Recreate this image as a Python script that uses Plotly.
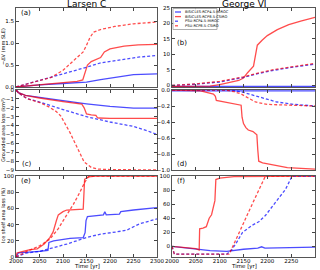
import plotly.graph_objects as go

# ---------------- data ----------------
YEAR_TICKS = [2000, 2050, 2100, 2150, 2200, 2250, 2300]
SERIES = ["BISICLES-RCP4.5-MIROC", "BISICLES-RCP8.5-CSIRO", "PSU-RCP4.5-MIROC", "PSU-RCP8.5-CSIRO"]

# (a) Larsen C, -dV (mm SLE)
a_bis45_t = [2000, 2050, 2100, 2150, 2180, 2215, 2250, 2300]
a_bis45_v = [0, 0.05, 0.08, 0.11, 0.17, 0.23, 0.28, 0.30]
a_bis85_t = [2000, 2050, 2100, 2130, 2142, 2146, 2152, 2160, 2172, 2180, 2188, 2200, 2230, 2260, 2300]
a_bis85_v = [0, 0.05, 0.09, 0.13, 0.16, 0.30, 0.50, 0.58, 0.63, 0.67, 0.80, 0.87, 0.93, 0.96, 0.97]
a_psu45_t = [2000, 2050, 2100, 2150, 2180, 2220, 2260, 2300]
a_psu45_v = [0, 0.15, 0.29, 0.45, 0.55, 0.62, 0.68, 0.72]
a_psu85_t = [2000, 2025, 2050, 2075, 2100, 2115, 2130, 2143, 2150, 2157, 2165, 2180, 2210, 2250, 2300]
a_psu85_v = [0, 0.07, 0.14, 0.22, 0.38, 0.52, 0.68, 0.80, 0.95, 1.12, 1.25, 1.31, 1.38, 1.44, 1.48]

# (b) George VI, -dV (mm SLE)
b_bis45_t = [2000, 2100, 2200, 2300]
b_bis45_v = [-0.3, -0.35, -0.3, -0.3]
b_bis85_t = [2000, 2050, 2080, 2100, 2120, 2140, 2150, 2159, 2171, 2175, 2179, 2189, 2200, 2221, 2245, 2270, 2300]
b_bis85_v = [-0.3, -0.3, -0.2, 0.3, 0.9, 1.6, 2.4, 4.2, 6.2, 9.9, 13.0, 14.6, 16.1, 18.0, 19.6, 20.8, 22.0]
b_psu45_t = [2000, 2050, 2100, 2150, 2180, 2210, 2250, 2300]
b_psu45_v = [0, 0.4, 1.1, 2.6, 3.8, 4.8, 5.8, 6.9]
b_psu85_t = [2000, 2050, 2100, 2150, 2180, 2210, 2250, 2300]
b_psu85_v = [0, 0.5, 1.3, 2.8, 4.0, 5.0, 6.0, 7.1]

# (c) Larsen C grounded area loss
c_bis45_t = [2000, 2005, 2020, 2050, 2100, 2150, 2200, 2250, 2300]
c_bis45_v = [0, -0.3, -0.6, -0.85, -1.2, -1.55, -1.85, -2.05, -2.05]
c_bis85_t = [2000, 2005, 2020, 2050, 2100, 2140, 2145, 2150, 2160, 2170, 2173, 2176, 2200, 2300]
c_bis85_v = [0, -0.3, -0.6, -0.9, -1.3, -1.6, -2.0, -2.7, -2.8, -2.85, -3.1, -3.15, -3.2, -3.2]
c_psu45_t = [2000, 2010, 2025, 2050, 2100, 2150, 2200, 2250, 2280, 2300]
c_psu45_v = [0, -0.5, -1.0, -1.35, -2.2, -3.0, -3.6, -4.1, -4.6, -5.0]
c_psu85_t = [2000, 2010, 2025, 2050, 2070, 2085, 2095, 2105, 2115, 2125, 2137, 2145, 2160, 2175, 2200, 2300]
c_psu85_v = [0, -0.5, -1.0, -1.4, -1.9, -2.4, -2.9, -3.8, -4.8, -5.9, -7.2, -8.1, -8.7, -8.9, -8.95, -9.0]

# (d) George VI grounded area loss
d_bis45_t = [2000, 2300]
d_bis45_v = [-0.01, -0.01]
d_bis85_t = [2000, 2060, 2087, 2091, 2093, 2120, 2145, 2147, 2150, 2155, 2160, 2170, 2178, 2180, 2182, 2190, 2214, 2242, 2300]
d_bis85_v = [0, -0.01, -0.05, -0.08, -0.13, -0.16, -0.19, -0.34, -0.42, -0.47, -0.5, -0.52, -0.56, -0.75, -0.89, -0.91, -0.94, -0.97, -0.99]
d_psu45_t = [2000, 2125, 2150, 2186, 2220, 2256, 2300]
d_psu45_v = [0, 0, -0.03, -0.09, -0.15, -0.18, -0.2]
d_psu85_t = [2000, 2110, 2130, 2145, 2160, 2175, 2200, 2250, 2300]
d_psu85_v = [0, 0, -0.02, -0.05, -0.1, -0.15, -0.18, -0.19, -0.2]

# (e) Larsen C ice shelf area loss (%)
e_bis45_t = [2000, 2005, 2050, 2068, 2070, 2080, 2115, 2143, 2147, 2149, 2152, 2178, 2186, 2189, 2192, 2220, 2223, 2250, 2300]
e_bis45_v = [0, 5, 7, 8, 18, 20, 23, 24, 30, 45, 50, 52, 52, 56, 52, 53, 56, 58, 61]
e_bis85_t = [2000, 2002, 2015, 2030, 2045, 2051, 2060, 2072, 2079, 2086, 2090, 2100, 2108, 2143, 2146, 2154, 2170, 2300]
e_bis85_v = [0, 5, 7, 9, 10, 12, 16, 24, 31, 45, 52, 56, 58, 59, 96, 99, 100, 100]
e_psu45_t = [2000, 2023, 2051, 2072, 2108, 2150, 2178, 2214, 2235, 2263, 2300]
e_psu45_v = [0, 5, 7, 10, 16, 24, 28, 31, 33, 41, 47]
e_psu85_t = [2000, 2020, 2051, 2072, 2090, 2108, 2122, 2136, 2146, 2154, 2165, 2300]
e_psu85_v = [0, 6, 14, 22, 35, 52, 65, 80, 92, 99, 100, 100]

# (f) George VI ice shelf area loss (%)
f_bis45_t = [2000, 2050, 2080, 2115, 2150, 2180, 2188, 2195, 2230, 2260, 2300]
f_bis45_v = [0, -3.5, -6, -7, -4, -2.5, -0.5, -2.5, -2, -1, -1]
f_bis85_t = [2000, 2020, 2050, 2057, 2058, 2065, 2072, 2078, 2083, 2090, 2092, 2100, 2130, 2300]
f_bis85_v = [0, -1, -3, -5, 25, 26, 28, 40, 45, 65, 95, 97, 99, 100]
f_psu45_t = [2000, 2005, 2115, 2125, 2135, 2148, 2168, 2182, 2196, 2217, 2238, 2252, 2300]
f_psu45_v = [0, -11, -11, -5, 5, 20, 30, 35, 44, 62, 81, 100, 100]
f_psu85_t = [2000, 2005, 2120, 2130, 2140, 2150, 2160, 2170, 2180, 2190, 2196, 2300]
f_psu85_v = [0, -11, -11, 4.5, 19, 33, 48, 62, 77, 91, 100, 100]

# ---------------- styling ----------------
BLUE = "rgba(0,0,255,0.7)"
RED = "rgba(255,0,0,0.7)"
STYLE = {
    "bis45": dict(color=BLUE, dash="solid"),
    "bis85": dict(color=RED, dash="solid"),
    "psu45": dict(color=BLUE, dash="3px,2px"),
    "psu85": dict(color=RED, dash="3px,2px"),
}
FONT = "DejaVu Sans"
W, H = 320, 270

def px_x(x):
    return x / W

def px_y(y):
    return 1 - y / H

XL = [px_x(16), px_x(157)]
XR = [px_x(172), px_x(315)]
ROWS = [[px_y(87), px_y(8)], [px_y(170), px_y(90)], [px_y(257), px_y(176)]]

panels = [
    ("a", {"bis45": (a_bis45_t, a_bis45_v), "bis85": (a_bis85_t, a_bis85_v), "psu45": (a_psu45_t, a_psu45_v), "psu85": (a_psu85_t, a_psu85_v)}),
    ("b", {"bis45": (b_bis45_t, b_bis45_v), "bis85": (b_bis85_t, b_bis85_v), "psu45": (b_psu45_t, b_psu45_v), "psu85": (b_psu85_t, b_psu85_v)}),
    ("c", {"bis45": (c_bis45_t, c_bis45_v), "bis85": (c_bis85_t, c_bis85_v), "psu45": (c_psu45_t, c_psu45_v), "psu85": (c_psu85_t, c_psu85_v)}),
    ("d", {"bis45": (d_bis45_t, d_bis45_v), "bis85": (d_bis85_t, d_bis85_v), "psu45": (d_psu45_t, d_psu45_v), "psu85": (d_psu85_t, d_psu85_v)}),
    ("e", {"bis45": (e_bis45_t, e_bis45_v), "bis85": (e_bis85_t, e_bis85_v), "psu45": (e_psu45_t, e_psu45_v), "psu85": (e_psu85_t, e_psu85_v)}),
    ("f", {"bis45": (f_bis45_t, f_bis45_v), "bis85": (f_bis85_t, f_bis85_v), "psu45": (f_psu45_t, f_psu45_v), "psu85": (f_psu85_t, f_psu85_v)}),
]

yranges = [[0, 1.8], [-0.5, 25], [-9, 0], [-1, 0], [0, 100], [-15, 100]]
yticks = [
    ([0, 0.5, 1.0, 1.5], ["0.0", "0.5", "1.0", "1.5"]),
    ([0, 5, 10, 15, 20, 25], ["0", "5", "10", "15", "20", "25"]),
    (list(range(-9, 1)), [("\u2212%d" % -v) if v < 0 else "0" for v in range(-9, 1)]),
    ([-1.0, -0.8, -0.6, -0.4, -0.2, 0.0], ["\u22121.0", "\u22120.8", "\u22120.6", "\u22120.4", "\u22120.2", "0.0"]),
    ([0, 20, 40, 60, 80, 100], ["0", "20", "40", "60", "80", "100"]),
    ([0, 20, 40, 60, 80, 100], ["0", "20", "40", "60", "80", "100"]),
]

fig = go.Figure()
order = ["bis45", "bis85", "psu45", "psu85"]
for i, (name, data) in enumerate(panels):
    k = "" if i == 0 else str(i + 1)
    for key in order:
        t, v = data[key]
        st = STYLE[key]
        fig.add_trace(go.Scatter(
            x=t, y=v, mode="lines", xaxis="x" + k, yaxis="y" + k,
            line=dict(color=st["color"], dash=st["dash"], width=1.3),
            name=SERIES[order.index(key)], showlegend=False, hoverinfo="skip"))

layout = dict(
    width=W, height=H, margin=dict(l=0, r=0, t=0, b=0),
    paper_bgcolor="white", plot_bgcolor="white",
    font=dict(family=FONT, size=6, color="black"),
    showlegend=False,
)
for i in range(6):
    k = "" if i == 0 else str(i + 1)
    row = i // 2
    xd = XL if i % 2 == 0 else XR
    layout["xaxis" + k] = dict(
        domain=xd, anchor="y" + k, range=[2000, 2300], tickvals=YEAR_TICKS,
        showticklabels=(row == 2), ticks="inside", ticklen=3, tickcolor="#444",
        ticklabelstandoff=-2,
        showline=True, mirror="ticks", linecolor="#555", linewidth=1, automargin=False,
        showgrid=False, zeroline=False, tickfont=dict(size=5.5, family=FONT))
    layout["yaxis" + k] = dict(
        domain=ROWS[row], anchor="x" + k, range=yranges[i],
        tickvals=yticks[i][0], ticktext=yticks[i][1], automargin=False,
        ticks="inside", ticklen=3, tickcolor="#444",
        showline=True, mirror="ticks", linecolor="#555", linewidth=1,
        showgrid=False, zeroline=False, tickfont=dict(size=5.5, family=FONT))
fig.update_layout(**layout)

ann = []
# column titles
ann.append(dict(text="Larsen C", x=(XL[0] + XL[1]) / 2, y=px_y(4), xref="paper", yref="paper",
                showarrow=False, font=dict(size=9, family=FONT), xanchor="center", yanchor="middle"))
ann.append(dict(text="George VI", x=(XR[0] + XR[1]) / 2, y=px_y(4), xref="paper", yref="paper",
                showarrow=False, font=dict(size=9, family=FONT), xanchor="center", yanchor="middle"))
# x titles
for xd in (XL, XR):
    ann.append(dict(text="Time [yr]", x=(xd[0] + xd[1]) / 2, y=px_y(266.5), xref="paper", yref="paper",
                    showarrow=False, font=dict(size=5.5, family=FONT), xanchor="center", yanchor="middle",
                    borderpad=0))
# y titles
for txt, yc in [("\u2212\u0394V (mm SLE)", 47), ("Grounded area loss (km\u00b2)", 130), ("Ice shelf area loss (%)", 216)]:
    ann.append(dict(text=txt, x=px_x(3), y=px_y(yc), xref="paper", yref="paper", textangle=-90,
                    showarrow=False, font=dict(size=5, family=FONT), xanchor="center", yanchor="middle"))
# panel labels (pixel positions)
for lab, (xp, yp) in {"(a)": (19, 13), "(b)": (175, 43), "(c)": (20, 164), "(d)": (175, 164),
                      "(e)": (19, 181), "(f)": (175, 181)}.items():
    ann.append(dict(text=lab, x=px_x(xp), y=px_y(yp), xref="paper", yref="paper",
                    showarrow=False, font=dict(size=7, family=FONT), xanchor="left", yanchor="middle"))

# manual legend inside panel (b)
shapes = []
lx0, lx1, ly_top, ly_bot = 173, 217, 8.5, 29.5
shapes.append(dict(type="rect", xref="paper", yref="paper", x0=px_x(lx0), x1=px_x(lx1),
                   y0=px_y(ly_bot), y1=px_y(ly_top), line=dict(color="#999", width=0.8),
                   fillcolor="rgba(255,255,255,0.9)", layer="above"))
for j, key in enumerate(order):
    yy = 12 + j * 4.6
    st = STYLE[key]
    shapes.append(dict(type="line", xref="paper", yref="paper", x0=px_x(175), x1=px_x(181),
                       y0=px_y(yy), y1=px_y(yy),
                       line=dict(color=st["color"], width=1.3, dash="dot" if key.startswith("psu") else "solid"),
                       layer="above"))
    ann.append(dict(text=SERIES[j], x=px_x(183), y=px_y(yy), xref="paper", yref="paper",
                    showarrow=False, font=dict(size=3.6, family=FONT), xanchor="left", yanchor="middle"))

fig.update_layout(annotations=ann, shapes=shapes)
fig.write_html("out.html", config={"displayModeBar": False},
               post_script="document.body.style.margin='0';")
